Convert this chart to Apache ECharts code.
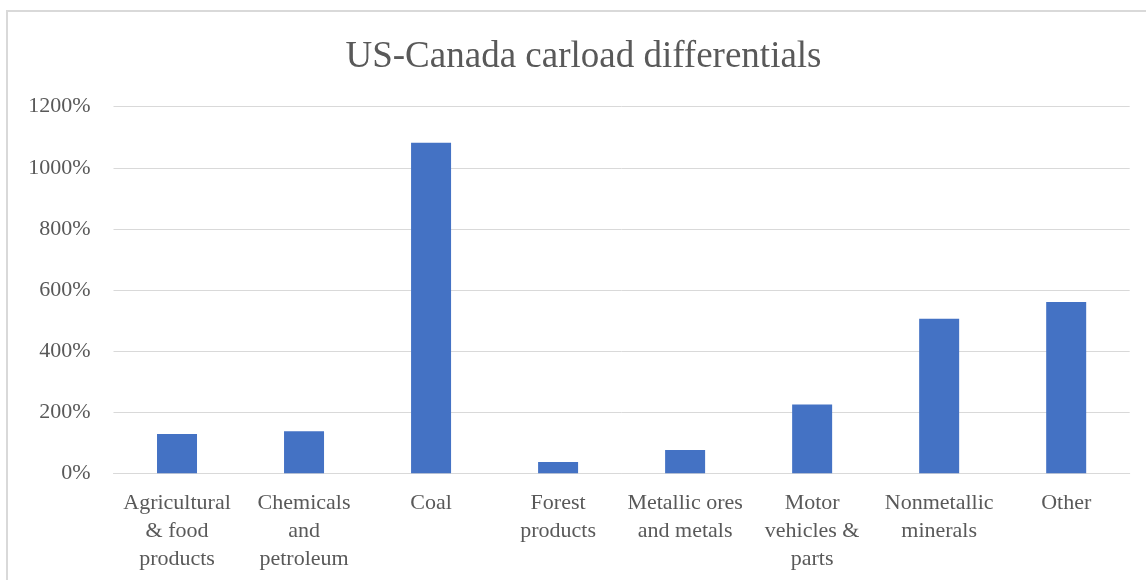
<!DOCTYPE html>
<html>
<head>
<meta charset="utf-8">
<title>US-Canada carload differentials</title>
<script src="https://cdn.jsdelivr.net/npm/echarts@6/dist/echarts.min.js"></script>
<style>
  html, body { margin: 0; padding: 0; background: #ffffff; }
  #chart { width: 1146px; height: 580px; }
</style>
</head>
<body>
<div id="chart"></div>
<script>
// Commodity groups and their US-Canada carload differential, in percent
const categories = [
  'Agricultural & food products',
  'Chemicals and petroleum',
  'Coal',
  'Forest products',
  'Metallic ores and metals',
  'Motor vehicles & parts',
  'Nonmetallic minerals',
  'Other'
];
const categoryLabels = [
  'Agricultural\n& food\nproducts',
  'Chemicals\nand\npetroleum',
  'Coal',
  'Forest\nproducts',
  'Metallic ores\nand metals',
  'Motor\nvehicles &\nparts',
  'Nonmetallic\nminerals',
  'Other'
];
const differentials = [129, 138, 1082, 37, 76, 225, 506, 561];
const yTicks = [0, 200, 400, 600, 800, 1000, 1200];

const serif = '"Liberation Serif", "Times New Roman", serif';
const textGrey = '#595959';
const gridGrey = '#d9d9d9';

const chart = echarts.init(document.getElementById('chart'), null, { renderer: 'canvas' });

chart.setOption({
  animation: false,
  backgroundColor: '#ffffff',
  title: {
    text: 'US-Canada carload differentials',
    left: 583.5,
    textAlign: 'center',
    top: 39,
    padding: 0,
    textStyle: {
      fontFamily: serif,
      fontSize: 37,
      fontWeight: 'normal',
      color: textGrey
    }
  },
  graphic: [{
    type: 'rect',
    silent: true,
    shape: { x: 7, y: 11, width: 1160, height: 600 },
    style: { fill: 'none', stroke: gridGrey, lineWidth: 2 }
  }],
  grid: {
    left: 113.5,
    right: 16.3,
    top: 106.7,
    bottom: 106.7,
    containLabel: false
  },
  xAxis: {
    type: 'category',
    data: categories,
    axisLine: { show: true, lineStyle: { color: gridGrey, width: 1 } },
    axisTick: { show: false },
    axisLabel: {
      interval: 0,
      margin: 16,
      fontFamily: serif,
      fontSize: 22,
      lineHeight: 28,
      color: textGrey,
      align: 'center',
      verticalAlign: 'top',
      formatter: (value, idx) => categoryLabels[idx]
    }
  },
  yAxis: {
    type: 'value',
    min: yTicks[0],
    max: yTicks[yTicks.length - 1],
    interval: yTicks[1] - yTicks[0],
    axisLine: { show: false },
    axisTick: { show: false },
    splitLine: { show: true, lineStyle: { color: gridGrey, width: 1 } },
    axisLabel: {
      margin: 23,
      padding: [3, 0, 0, 0],
      fontFamily: serif,
      fontSize: 22,
      color: textGrey,
      formatter: (value) => value + '%'
    }
  },
  series: [{
    type: 'bar',
    data: differentials,
    barWidth: 40,
    itemStyle: { color: '#4472c4' }
  }]
});
</script>
</body>
</html>
